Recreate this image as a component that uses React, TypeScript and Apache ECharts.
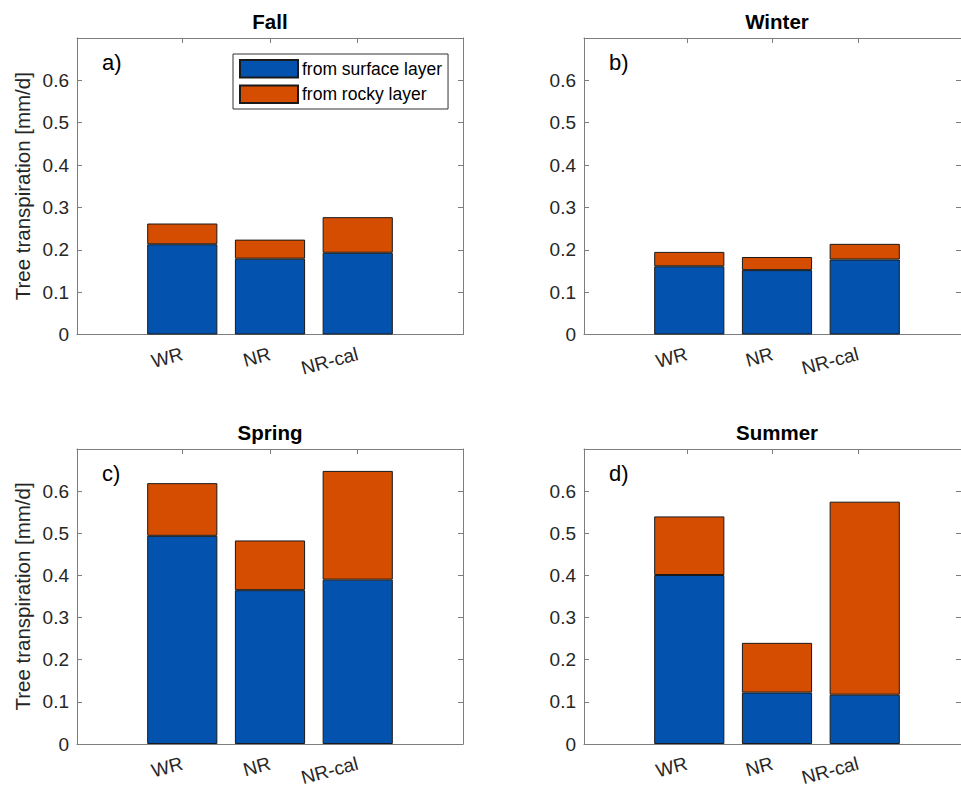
import React, { useEffect, useRef } from 'react';
import * as echarts from 'echarts';

const categories = ['WR', 'NR', 'NR-cal'];
const seriesNames = ['from surface layer', 'from rocky layer'];
const panelTitles = ['Fall', 'Winter', 'Spring', 'Summer'];
const panelLetters = ['a)', 'b)', 'c)', 'd)'];
const yAxisTitle = 'Tree transpiration [mm/d]';

const fallSurface = [0.213, 0.179, 0.193];
const fallRocky = [0.049, 0.045, 0.084];
const winterSurface = [0.161, 0.152, 0.177];
const winterRocky = [0.034, 0.031, 0.037];
const springSurface = [0.494, 0.365, 0.39];
const springRocky = [0.125, 0.118, 0.258];
const summerSurface = [0.401, 0.122, 0.117];
const summerRocky = [0.139, 0.118, 0.458];

const yTickValues = [0, 0.1, 0.2, 0.3, 0.4, 0.5, 0.6];
const categoryPositions = [1, 2, 3];

const BLUE = '#0353ae';
const ORANGE = '#d54d01';
const AXIS = '#7d7d7d';
const TXT = '#262626';
const FONT = 'Liberation Sans, Arial, Helvetica, sans-serif';

const surfaceData = [fallSurface, winterSurface, springSurface, summerSurface];
const rockyData = [fallRocky, winterRocky, springRocky, summerRocky];

const panelLeft = [77, 584, 77, 584];
const panelTop = [38, 38, 449, 449];
const panelHeight = [296.5, 296.5, 295, 295];
const frameWidth = 386;
const X_MIN = -0.2;
const X_MAX = 4.2;
const Y_MAX = 0.7;

export default function App() {
  const ref = useRef<HTMLDivElement>(null);

  useEffect(() => {
    if (!ref.current) return;
    const chart = echarts.init(ref.current, null, { renderer: 'svg' });
    const unit = frameWidth / (X_MAX - X_MIN);

    const grid: any[] = [];
    const xAxis: any[] = [];
    const yAxis: any[] = [];
    const series: any[] = [];
    const graphic: any[] = [];

    for (let p = 0; p < 4; p++) {
      const left = panelLeft[p];
      const top = panelTop[p];
      const h = panelHeight[p];
      const frameGrid = grid.length;
      grid.push({ left, top, width: frameWidth, height: h, containLabel: false });
      const barGrid = grid.length;
      grid.push({ left: left + (0.5 - X_MIN) * unit, top, width: 3 * unit, height: h, containLabel: false });

      const lineStyle = { color: AXIS, width: 1 };
      // frame x bottom
      xAxis.push({
        gridIndex: frameGrid, type: 'value', position: 'bottom', min: X_MIN, max: X_MAX,
        axisLine: { show: true, onZero: false, lineStyle },
        axisTick: { show: true, inside: true, length: 5, customValues: categoryPositions, lineStyle },
        axisLabel: {
          show: true, customValues: categoryPositions, rotate: 15, margin: 19,
          formatter: (v: number) => categories[Math.round(v) - 1] ?? '',
          fontSize: 19, color: TXT, fontFamily: FONT,
        },
        splitLine: { show: false },
      });
      // frame x top
      xAxis.push({
        gridIndex: frameGrid, type: 'value', position: 'top', min: X_MIN, max: X_MAX,
        axisLine: { show: true, onZero: false, lineStyle },
        axisTick: { show: true, inside: true, length: 5, customValues: categoryPositions, lineStyle },
        axisLabel: { show: false },
        splitLine: { show: false },
      });
      // frame y left
      yAxis.push({
        gridIndex: frameGrid, type: 'value', position: 'left', min: 0, max: Y_MAX,
        axisLine: { show: true, onZero: false, lineStyle },
        axisTick: { show: true, inside: true, length: 5, customValues: yTickValues, lineStyle },
        axisLabel: {
          show: true, customValues: yTickValues, margin: 8,
          formatter: (v: number) => (Math.abs(v) < 1e-9 ? '0' : v.toFixed(1)),
          fontSize: 19, color: TXT, fontFamily: FONT,
        },
        splitLine: { show: false },
      });
      // frame y right
      yAxis.push({
        gridIndex: frameGrid, type: 'value', position: 'right', min: 0, max: Y_MAX,
        axisLine: { show: true, onZero: false, lineStyle },
        axisTick: { show: true, inside: true, length: 5, customValues: yTickValues, lineStyle },
        axisLabel: { show: false },
        splitLine: { show: false },
      });
      // bar grid axes (hidden)
      const bx = xAxis.length;
      xAxis.push({
        gridIndex: barGrid, type: 'category', data: categories, boundaryGap: true,
        axisLine: { show: false }, axisTick: { show: false }, axisLabel: { show: false }, splitLine: { show: false },
      });
      const by = yAxis.length;
      yAxis.push({
        gridIndex: barGrid, type: 'value', min: 0, max: Y_MAX,
        axisLine: { show: false }, axisTick: { show: false }, axisLabel: { show: false }, splitLine: { show: false },
      });

      series.push({
        type: 'bar', name: seriesNames[0], xAxisIndex: bx, yAxisIndex: by, stack: 'panel' + p,
        barWidth: '80%', data: surfaceData[p],
        itemStyle: { color: BLUE, borderColor: '#1a1a1a', borderWidth: 1 },
        emphasis: { disabled: true },
      });
      series.push({
        type: 'bar', name: seriesNames[1], xAxisIndex: bx, yAxisIndex: by, stack: 'panel' + p,
        barWidth: '80%', data: rockyData[p],
        itemStyle: { color: ORANGE, borderColor: '#1a1a1a', borderWidth: 1 },
        emphasis: { disabled: true },
      });

      // title
      graphic.push({
        type: 'text', x: left + frameWidth / 2, y: top - 16.5,
        style: { text: panelTitles[p], align: 'center', verticalAlign: 'middle', fontSize: 20.5, fontWeight: 'bold', fill: '#000', fontFamily: FONT },
      });
      // letter
      graphic.push({
        type: 'text', x: left + 25, y: top + 24,
        style: { text: panelLetters[p], align: 'left', verticalAlign: 'middle', fontSize: 22, fill: '#000', fontFamily: FONT },
      });
      if (p % 2 === 0) {
        graphic.push({
          type: 'text', x: 22, y: top + h / 2, rotation: Math.PI / 2,
          style: { text: yAxisTitle, align: 'center', verticalAlign: 'middle', fontSize: 20.5, fill: TXT, fontFamily: FONT },
        });
      }
    }

    chart.setOption({
      animation: false,
      backgroundColor: '#ffffff',
      textStyle: { fontFamily: FONT },
      grid,
      xAxis,
      yAxis,
      series,
      graphic,
      legend: {
        data: seriesNames,
        orient: 'vertical',
        left: 233,
        top: 54,
        itemWidth: 58,
        itemHeight: 17.5,
        itemGap: 6,
        padding: [5, 6, 5, 6],
        borderColor: '#333333',
        borderWidth: 1,
        backgroundColor: '#ffffff',
        icon: 'rect',
        selectedMode: false,
        textStyle: { fontSize: 17.5, color: '#000', fontFamily: FONT, padding: [0, 0, 0, -1] },
      },
    });

    return () => {
      chart.dispose();
    };
  }, []);

  return (
    <div
      ref={ref}
      style={{ position: 'fixed', left: 0, top: 0, width: 961, height: 788, overflow: 'hidden', background: '#fff' }}
    />
  );
}
